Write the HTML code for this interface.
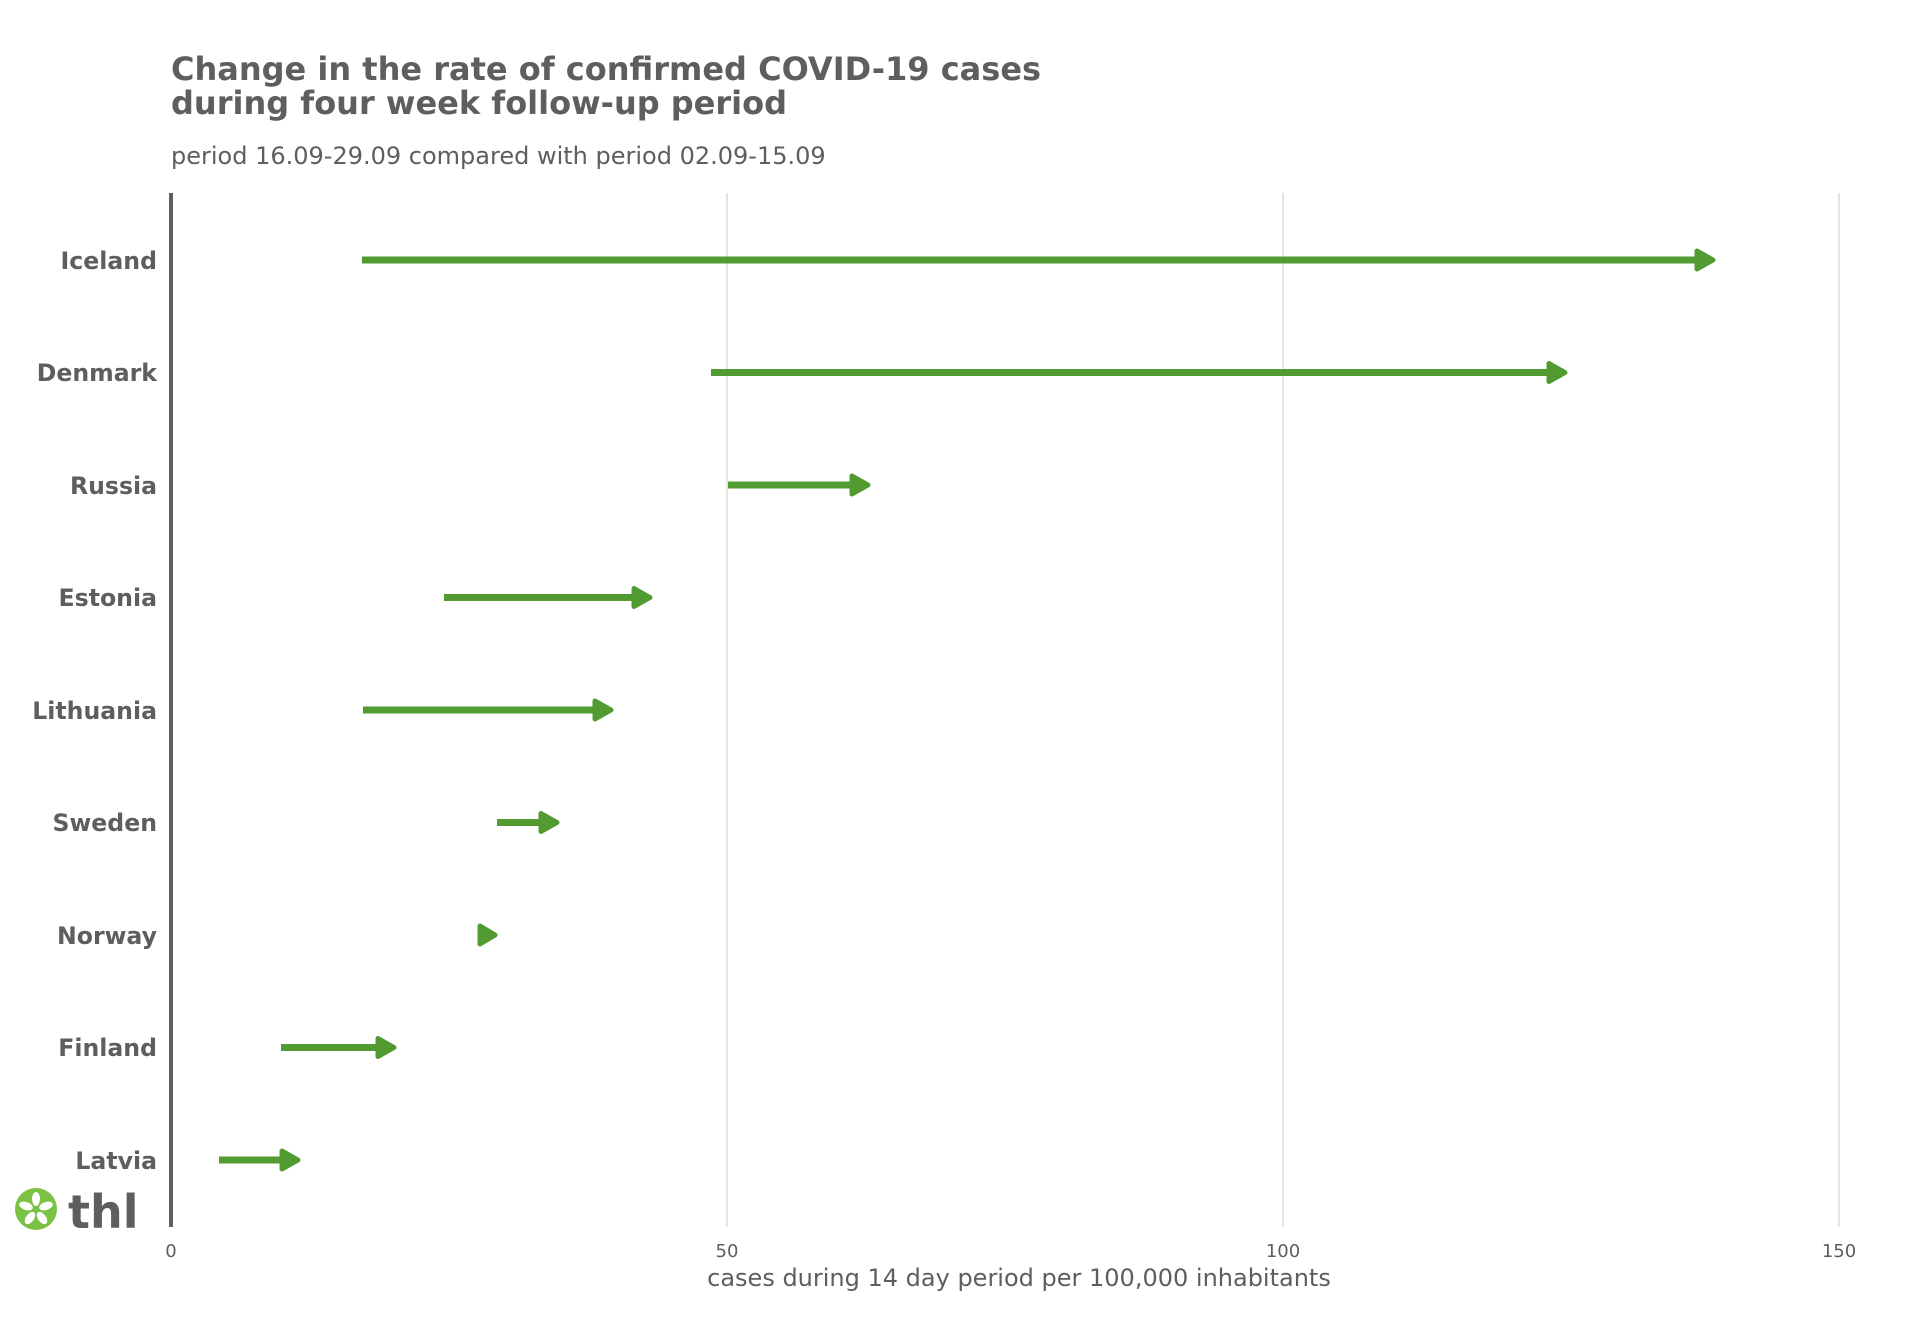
<!DOCTYPE html>
<html><head><meta charset="utf-8"><style>
html,body{margin:0;padding:0;background:#fff;}
svg{display:block;}
text{font-family:"DejaVu Sans","Liberation Sans",sans-serif;fill:#5e5e5e;}
</style></head><body>
<svg width="1920" height="1344" viewBox="0 0 1920 1344" xmlns="http://www.w3.org/2000/svg">
<text x="171" y="80" font-size="32" font-weight="bold">Change in the rate of confirmed COVID-19 cases</text>
<text x="171" y="114" font-size="32" font-weight="bold">during four week follow-up period</text>
<text x="171" y="164" font-size="24">period 16.09-29.09 compared with period 02.09-15.09</text>
<g stroke="#dcdcdc" stroke-width="1.5">
<line x1="727" y1="193" x2="727" y2="1227"/>
<line x1="1283" y1="193" x2="1283" y2="1227"/>
<line x1="1839" y1="193" x2="1839" y2="1227"/>
</g>
<line x1="171" y1="193" x2="171" y2="1227" stroke="#5e5e5e" stroke-width="4"/>
<g font-size="18" text-anchor="middle">
<text x="171" y="1257">0</text><text x="727" y="1257">50</text><text x="1283" y="1257">100</text><text x="1839" y="1257">150</text>
</g>
<text x="1019" y="1286" font-size="24" text-anchor="middle">cases during 14 day period per 100,000 inhabitants</text>
<g font-size="23.6" font-weight="bold" text-anchor="end">
<text x="157" y="269">Iceland</text>
<text x="157" y="381">Denmark</text>
<text x="157" y="494">Russia</text>
<text x="157" y="606">Estonia</text>
<text x="157" y="719">Lithuania</text>
<text x="157" y="831">Sweden</text>
<text x="157" y="944">Norway</text>
<text x="157" y="1056">Finland</text>
<text x="157" y="1169">Latvia</text>
</g>
<g stroke="#529b30" fill="#529b30" stroke-width="7" stroke-linejoin="round">
<line x1="362" y1="260" x2="1700" y2="260"/><polygon stroke-width="5" points="1697,251 1713,260 1697,269"/>
<line x1="711" y1="372.5" x2="1552" y2="372.5"/><polygon stroke-width="5" points="1549,363.5 1565,372.5 1549,381.5"/>
<line x1="728" y1="485" x2="855" y2="485"/><polygon stroke-width="5" points="852,476 868,485 852,494"/>
<line x1="444" y1="597.5" x2="637" y2="597.5"/><polygon stroke-width="5" points="634,588.5 650,597.5 634,606.5"/>
<line x1="363" y1="710" x2="598" y2="710"/><polygon stroke-width="5" points="595,701 611,710 595,719"/>
<line x1="497" y1="822.5" x2="544" y2="822.5"/><polygon stroke-width="5" points="541,813.5 557,822.5 541,831.5"/>
<polygon stroke-width="5" points="480,926 495,935 480,944"/>
<line x1="281" y1="1047.5" x2="381" y2="1047.5"/><polygon stroke-width="5" points="378,1038.5 394,1047.5 378,1056.5"/>
<line x1="219" y1="1160" x2="285" y2="1160"/><polygon stroke-width="5" points="282,1151 298,1160 282,1169"/>
</g>
<circle cx="36" cy="1209" r="21" fill="#7bc143"/>
<g fill="#fff">
<ellipse cx="36" cy="1199" rx="4" ry="7"/>
<ellipse cx="26" cy="1206" rx="4" ry="7" transform="rotate(-72 26 1206)"/>
<ellipse cx="46" cy="1206" rx="4" ry="7" transform="rotate(72 46 1206)"/>
<ellipse cx="30" cy="1218" rx="4" ry="7" transform="rotate(-144 30 1218)"/>
<ellipse cx="42" cy="1218" rx="4" ry="7" transform="rotate(144 42 1218)"/>
</g>
<text x="68" y="1228" font-size="46" font-weight="bold">thl</text>
</svg>
</body></html>
